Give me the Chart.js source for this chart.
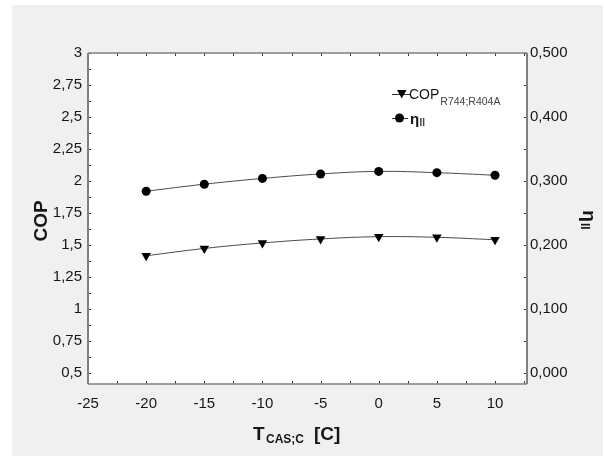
<!DOCTYPE html>
<html>
<head>
<meta charset="utf-8">
<script src="https://cdn.jsdelivr.net/npm/chart.js@4.4.0/dist/chart.umd.min.js"></script>
<style>
  html, body { margin: 0; padding: 0; background: #ffffff; }
  #wrap { width: 604px; height: 456px; }
</style>
</head>
<body>
<div id="wrap"><canvas id="copChart" width="604" height="456"></canvas></div>
<script>
// condenser temperature of the cascade [C]
const tempC = [-20, -15, -10, -5, 0, 5, 10];
const copValues = [1.416, 1.473, 1.516, 1.547, 1.565, 1.560, 1.541];
const etaValues = [0.284, 0.295, 0.304, 0.311, 0.315, 0.313, 0.309];

const xTicks = [-25, -20, -15, -10, -5, 0, 5, 10];
const copTicks = [0.5, 0.75, 1, 1.25, 1.5, 1.75, 2, 2.25, 2.5, 2.75, 3];
const etaTicks = [0, 0.1, 0.2, 0.3, 0.4, 0.5];

const FONT = "'Liberation Sans', Arial, sans-serif";
const TEXT = "#161616";
const FRAME = "#808080";

const commaNum = (v, digits) =>
  (digits == null ? String(v) : v.toFixed(digits)).replace(".", ",");

function fixTicks(list) {
  return (scale) => {
    scale.ticks = list.map((v) => ({ value: v }));
  };
}

// frame, inward ticks, titles and the legend
const decorations = {
  id: "decorations",
  beforeDraw(chart) {
    const ctx = chart.ctx;
    const a = chart.chartArea;
    ctx.save();
    ctx.fillStyle = "#f0f0f0";
    ctx.fillRect(12, 5, 591, 451);
    ctx.fillStyle = "#ffffff";
    ctx.fillRect(a.left, a.top, a.right - a.left, a.bottom - a.top);
    ctx.restore();
  },
  afterDraw(chart) {
    const ctx = chart.ctx;
    const a = chart.chartArea;
    const sx = chart.scales.x;
    const sy = chart.scales.y;
    const sy1 = chart.scales.y1;
    ctx.save();

    // tick marks point into the plot
    ctx.strokeStyle = "#333";
    ctx.lineWidth = 1;
    const tl = 3;
    ctx.beginPath();
    for (let v = -25; v <= 12.5; v += 2.5) {
      const px = Math.round(sx.getPixelForValue(v)) + 0.5;
      ctx.moveTo(px, a.bottom); ctx.lineTo(px, a.bottom - tl);
      ctx.moveTo(px, a.top); ctx.lineTo(px, a.top + tl);
    }
    for (let v = 0.5; v <= 3.0001; v += 0.125) {
      const py = Math.round(sy.getPixelForValue(v)) + 0.5;
      ctx.moveTo(a.left, py); ctx.lineTo(a.left + tl, py);
    }
    for (let v = 0; v <= 0.5001; v += 0.05) {
      const py = Math.round(sy1.getPixelForValue(v)) + 0.5;
      ctx.moveTo(a.right, py); ctx.lineTo(a.right - tl, py);
    }
    ctx.stroke();

    // plot frame
    ctx.strokeStyle = FRAME;
    ctx.lineWidth = 2;
    ctx.beginPath();
    ctx.moveTo(a.left, a.top); ctx.lineTo(a.left, a.bottom);
    ctx.moveTo(a.right, a.top); ctx.lineTo(a.right, a.bottom);
    ctx.stroke();
    ctx.lineWidth = 1.4;
    ctx.beginPath();
    ctx.moveTo(a.left, a.top); ctx.lineTo(a.right, a.top);
    ctx.moveTo(a.left, a.bottom); ctx.lineTo(a.right, a.bottom);
    ctx.stroke();

    ctx.fillStyle = TEXT;
    ctx.textBaseline = "alphabetic";

    // left axis title
    ctx.save();
    ctx.translate(47, 221);
    ctx.rotate(-Math.PI / 2);
    ctx.font = "bold 19px " + FONT;
    ctx.textAlign = "center";
    ctx.fillText("COP", 0, 0);
    ctx.restore();

    // right axis title
    ctx.save();
    ctx.translate(583, 220);
    ctx.rotate(Math.PI / 2);
    ctx.textAlign = "left";
    ctx.font = "bold 19px " + FONT;
    const etaW = ctx.measureText("η").width;
    ctx.font = "bold 12px " + FONT;
    const iiW = ctx.measureText("II").width;
    const start = -(etaW + iiW + 1) / 2;
    ctx.font = "bold 19px " + FONT;
    ctx.fillText("η", start, 0);
    ctx.font = "bold 12px " + FONT;
    ctx.fillText("II", start + etaW + 1, 2);
    ctx.restore();

    // x axis title
    ctx.textAlign = "left";
    ctx.font = "bold 19px " + FONT;
    ctx.fillText("T", 253, 440);
    ctx.font = "bold 12px " + FONT;
    ctx.fillText("CAS;C", 266, 443);
    ctx.font = "bold 19px " + FONT;
    ctx.fillText("[C]", 314, 440);

    // legend
    ctx.strokeStyle = "#333";
    ctx.lineWidth = 1;
    ctx.beginPath();
    ctx.moveTo(392, 94.5); ctx.lineTo(411, 94.5);
    ctx.moveTo(392, 118.5); ctx.lineTo(408, 118.5);
    ctx.stroke();
    ctx.fillStyle = "#000";
    ctx.beginPath();
    ctx.moveTo(397, 90); ctx.lineTo(406.5, 90); ctx.lineTo(401.75, 98.5);
    ctx.closePath();
    ctx.fill();
    ctx.beginPath();
    ctx.arc(399.5, 118, 4.5, 0, Math.PI * 2);
    ctx.fill();

    ctx.fillStyle = TEXT;
    ctx.font = "14px " + FONT;
    ctx.fillText("COP", 409, 99);
    const copW = ctx.measureText("COP").width;
    ctx.fillStyle = "#444";
    ctx.font = "10.5px " + FONT;
    ctx.fillText("R744;R404A", 409 + copW + 1, 105);
    ctx.fillStyle = TEXT;
    ctx.font = "bold 15px " + FONT;
    ctx.fillText("η", 410, 124);
    ctx.fillStyle = "#444";
    ctx.font = "bold 10px " + FONT;
    ctx.fillText("II", 419.5, 126);

    ctx.restore();
  },
};

const ctx = document.getElementById("copChart");

new Chart(ctx, {
  type: "line",
  data: {
    datasets: [
      {
        label: "COP R744;R404A",
        data: tempC.map((t, i) => ({ x: t, y: copValues[i] })),
        yAxisID: "y",
        borderColor: "#4a4a4a",
        borderWidth: 1,
        tension: 0.4,
        pointStyle: "triangle",
        rotation: 180,
        pointRadius: 5.5,
        pointBackgroundColor: "#000",
        pointBorderColor: "#000",
        pointBorderWidth: 0,
      },
      {
        label: "ηII",
        data: tempC.map((t, i) => ({ x: t, y: etaValues[i] })),
        yAxisID: "y1",
        borderColor: "#4a4a4a",
        borderWidth: 1,
        tension: 0.4,
        pointStyle: "circle",
        pointRadius: 4.5,
        pointBackgroundColor: "#000",
        pointBorderColor: "#000",
        pointBorderWidth: 0,
      },
    ],
  },
  options: {
    responsive: false,
    animation: false,
    events: [],
    layout: { padding: { top: 53, left: 0, right: 0, bottom: 0 } },
    plugins: {
      legend: { display: false },
      title: { display: false },
      tooltip: { enabled: false },
    },
    scales: {
      x: {
        type: "linear",
        min: -25,
        max: 12.75,
        afterBuildTicks: fixTicks(xTicks),
        afterFit: (s) => { s.height = 72; },
        grid: { display: false, drawTicks: false },
        border: { display: false },
        ticks: {
          padding: 11,
          color: TEXT,
          font: { family: FONT, size: 15 },
          maxRotation: 0,
          callback: (v) => String(v),
        },
      },
      y: {
        type: "linear",
        position: "left",
        min: 0.414,
        max: 3,
        afterBuildTicks: fixTicks(copTicks),
        afterFit: (s) => { s.width = 88; },
        grid: { display: false, drawTicks: false },
        border: { display: false },
        ticks: {
          padding: 6,
          color: TEXT,
          font: { family: FONT, size: 15 },
          callback: (v) => commaNum(v),
        },
      },
      y1: {
        type: "linear",
        position: "right",
        min: -0.0172,
        max: 0.5,
        afterBuildTicks: fixTicks(etaTicks),
        afterFit: (s) => { s.width = 77; },
        grid: { display: false, drawTicks: false },
        border: { display: false },
        ticks: {
          padding: 3,
          color: TEXT,
          font: { family: FONT, size: 15 },
          callback: (v) => commaNum(v, 3),
        },
      },
    },
  },
  plugins: [decorations],
});
</script>
</body>
</html>
